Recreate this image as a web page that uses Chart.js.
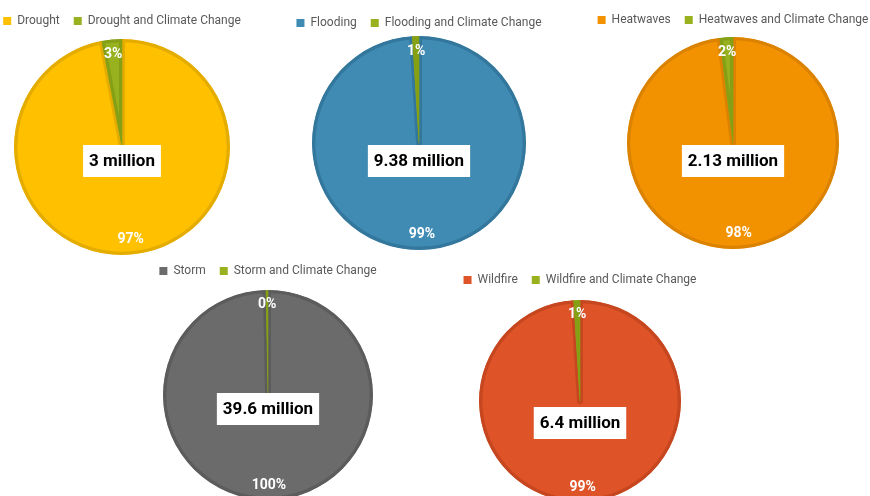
<!DOCTYPE html>
<html>
<head>
<meta charset="utf-8">
<script src="https://cdn.jsdelivr.net/npm/chart.js@4"></script>
<style>
  html, body { margin: 0; padding: 0; background: #fff; }
  #wrap { position: relative; width: 870px; height: 496px; overflow: hidden; }
  canvas { position: absolute; }
</style>
</head>
<body>
<div id="wrap"></div>
<script>
// data
const hazards = ['Drought', 'Flooding', 'Heatwaves', 'Storm', 'Wildfire'];
const hazardShare = [97, 99, 98, 99.7, 99];
const climateShare = [3, 1, 2, 0.3, 1];
const totalLabels = ['3 million', '9.38 million', '2.13 million', '39.6 million', '6.4 million'];

const fillColors = ['#FFC000', '#3F8BB4', '#F39200', '#6B6B6B', '#DE5328'];
const edgeColors = ['#E5AC00', '#33779C', '#DB8300', '#5C5C5C', '#C6461F'];
const greenFill = '#98B11E';
const greenEdge = '#86A016';

// where each pie sits on the page: centre x/y, radius, label offset, extra legend gap
const layout = [
  { cx: 122, cy: 147, r: 108, dy: 14, lg: 2 },
  { cx: 419, cy: 143, r: 107, dy: 18, lg: -3 },
  { cx: 733, cy: 143, r: 106, dy: 18, lg: 1 },
  { cx: 268, cy: 395, r: 105, dy: 14, lg: 3 },
  { cx: 580, cy: 401, r: 101, dy: 22, lg: 4 },
];

Chart.defaults.font.family = 'Roboto, "DejaVu Sans", sans-serif';
Chart.defaults.color = '#595959';

const LEGEND_PAD = 14;
const LEGEND_H = 22 + LEGEND_PAD;

// stretch the legend box so the gap under it can differ per chart
const legendGap = {
  id: 'legendGap',
  beforeInit(chart) {
    const fit = chart.legend.fit;
    const extra = chart.options.plugins.legendGap.extra;
    chart.legend.fit = function () {
      fit.call(this);
      this.height += extra;
    };
  }
};

const labelPlugin = {
  id: 'pieLabels',
  afterDatasetsDraw(chart) {
    const ctx = chart.ctx;
    const meta = chart.getDatasetMeta(0);
    const data = chart.data.datasets[0].data;
    const sum = data.reduce((a, b) => a + b, 0);
    ctx.save();
    ctx.fillStyle = '#fff';
    ctx.font = 'bold 14px Roboto, "DejaVu Sans", sans-serif';
    ctx.textAlign = 'center';
    ctx.textBaseline = 'middle';
    meta.data.forEach((arc, i) => {
      const p = arc.getProps(['x', 'y', 'startAngle', 'endAngle', 'outerRadius'], true);
      const mid = (p.startAngle + p.endAngle) / 2;
      const rr = p.outerRadius * 0.86;
      ctx.fillText(Math.round(data[i] / sum * 100) + '%', p.x + Math.cos(mid) * rr, p.y + Math.sin(mid) * rr);
    });
    // total in a white box
    const c = meta.data[0].getProps(['x', 'y'], true);
    const opts = chart.options.plugins.pieLabels;
    ctx.font = 'bold 17px Roboto, "DejaVu Sans", sans-serif';
    const w = ctx.measureText(opts.total).width + 12;
    const h = 32;
    ctx.fillStyle = '#fff';
    ctx.fillRect(c.x - w / 2, c.y + opts.dy - h / 2, w, h);
    ctx.fillStyle = '#000';
    ctx.fillText(opts.total, c.x, c.y + opts.dy + 1);
    ctx.restore();
  }
};

hazards.forEach((name, i) => {
  const L = layout[i];
  const cv = document.createElement('canvas');
  const w = 2 * L.r + 140;
  const h = 2 * L.r + LEGEND_H + L.lg;
  cv.width = w;
  cv.height = h;
  cv.style.left = (L.cx - w / 2) + 'px';
  cv.style.top = (L.cy - L.r - LEGEND_H - L.lg) + 'px';
  document.getElementById('wrap').appendChild(cv);

  new Chart(cv, {
    type: 'pie',
    data: {
      labels: [name, name + ' and Climate Change'],
      datasets: [{
        data: [hazardShare[i], climateShare[i]],
        backgroundColor: [fillColors[i], greenFill],
        borderColor: [edgeColors[i], greenEdge],
        borderWidth: 3,
        borderAlign: 'inner',
      }],
    },
    options: {
      responsive: false,
      animation: false,
      devicePixelRatio: 1,
      plugins: {
        legend: {
          position: 'top',
          labels: {
            boxWidth: 8,
            boxHeight: 8,
            padding: LEGEND_PAD,
            font: { size: 12 },
            color: '#595959',
            generateLabels(chart) {
              const items = Chart.overrides.pie.plugins.legend.labels.generateLabels(chart);
              items.forEach((it) => { it.strokeStyle = it.fillStyle; it.lineWidth = 0; });
              return items;
            },
          },
        },
        tooltip: { enabled: false },
        legendGap: { extra: L.lg },
        pieLabels: { total: totalLabels[i], dy: L.dy },
      },
    },
    plugins: [legendGap, labelPlugin],
  });
});
</script>
</body>
</html>
